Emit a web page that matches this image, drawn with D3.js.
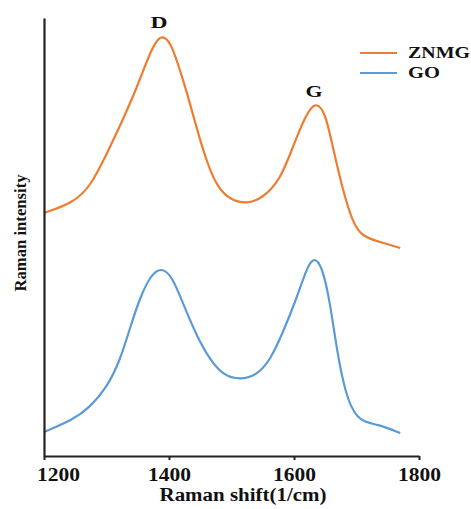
<!DOCTYPE html>
<html>
<head>
<meta charset="utf-8">
<script src="https://cdn.jsdelivr.net/npm/d3@7"></script>
<style>
  body { margin: 0; background: #fff; }
  text { font-family: "Liberation Serif", "Times New Roman", serif; font-weight: bold; fill: #111; }
</style>
</head>
<body>
<div id="chart"></div>
<script>
// Raman shift (1/cm) sample positions and intensities (arbitrary units)
const znmgShift = [1200, 1246, 1274, 1301, 1326, 1349, 1365, 1378, 1389, 1402, 1414, 1429, 1445, 1461, 1477, 1498, 1525, 1550, 1578, 1598, 1618, 1634, 1650, 1662, 1678, 1694, 1710, 1738, 1770];
const znmgIntensity = [243, 253, 269, 303, 336, 369, 396, 414, 421, 414, 393, 363, 326, 293, 269, 256, 252, 258, 276, 309, 340, 355, 344, 309, 266, 233, 219, 214, 208];

const goShift = [1200, 1246, 1274, 1301, 1322, 1338, 1354, 1370, 1387, 1405, 1422, 1445, 1466, 1486, 1514, 1541, 1562, 1582, 1605, 1621, 1632, 1645, 1658, 1670, 1686, 1706, 1733, 1770];
const goIntensity = [24, 36, 49, 69, 96, 129, 159, 180, 189, 180, 153, 119, 96, 81, 76, 81, 96, 123, 159, 189, 199, 190, 153, 99, 53, 34, 32, 23];

const xTicks = [1200, 1400, 1600, 1800];
const seriesNames = ["ZNMG", "GO"];
const seriesColors = ["#ED7D31", "#5B9BD5"];

const series = [
  { name: seriesNames[0], color: seriesColors[0], values: znmgShift.map((s, i) => ({ x: s, y: znmgIntensity[i] })) },
  { name: seriesNames[1], color: seriesColors[1], values: goShift.map((s, i) => ({ x: s, y: goIntensity[i] })) }
];

const WIDTH = 471, HEIGHT = 509;
const MARGIN = { top: 18, right: 52, bottom: 53, left: 44 };

const svg = d3.select("#chart").append("svg")
  .attr("width", WIDTH)
  .attr("height", HEIGHT);

const x = d3.scaleLinear()
  .domain([1200, 1800])
  .range([MARGIN.left, WIDTH - MARGIN.right]);
const y = d3.scaleLinear()
  .domain([0, 438])
  .range([HEIGHT - MARGIN.bottom, MARGIN.top]);

// lines
const line = d3.line()
  .x(d => x(d.x))
  .y(d => y(d.y))
  .curve(d3.curveBasis);

svg.selectAll(".series")
  .data(series)
  .enter().append("path")
  .attr("class", "series")
  .attr("fill", "none")
  .attr("stroke", d => d.color)
  .attr("stroke-width", 2.2)
  .attr("d", d => line(d.values));

// axes
const xAxis = svg.append("g")
  .attr("transform", `translate(0, ${HEIGHT - MARGIN.bottom})`)
  .call(d3.axisBottom(x).tickValues(xTicks).tickFormat(d3.format("d")).tickSize(4).tickSizeOuter(0));
xAxis.select(".domain").attr("stroke", "#222").attr("stroke-width", 2.2);
xAxis.selectAll(".tick line").attr("stroke", "#222").attr("stroke-width", 2);
xAxis.selectAll(".tick text")
  .attr("y", 12)
  .attr("font-size", "18px")
  .attr("font-family", "Liberation Serif, serif")
  .attr("font-weight", "bold")
  .attr("fill", "#111")
  .attr("textLength", 43)
  .attr("lengthAdjust", "spacingAndGlyphs");
xAxis.selectAll(".tick text").filter(d => d === 1200).attr("dx", 14);

const yAxis = svg.append("g")
  .attr("transform", `translate(${MARGIN.left}, 0)`)
  .call(d3.axisLeft(y).tickValues([]).tickSizeOuter(0));
yAxis.select(".domain").attr("stroke", "#222").attr("stroke-width", 2.2);

// axis titles
svg.append("text")
  .attr("x", 243)
  .attr("y", 501)
  .attr("text-anchor", "middle")
  .attr("font-size", "18px")
  .attr("textLength", 167)
  .attr("lengthAdjust", "spacingAndGlyphs")
  .text("Raman shift(1/cm)");

svg.append("text")
  .attr("transform", "translate(26, 233) rotate(-90)")
  .attr("text-anchor", "middle")
  .attr("font-size", "16px")
  .attr("textLength", 117)
  .attr("lengthAdjust", "spacingAndGlyphs")
  .text("Raman intensity");

// peak labels
svg.append("text")
  .attr("x", x(1384)).attr("y", 28)
  .attr("text-anchor", "middle")
  .attr("font-size", "16px")
  .attr("textLength", 17)
  .attr("lengthAdjust", "spacingAndGlyphs")
  .text("D");
svg.append("text")
  .attr("x", x(1632)).attr("y", 97)
  .attr("text-anchor", "middle")
  .attr("font-size", "16px")
  .attr("textLength", 17)
  .attr("lengthAdjust", "spacingAndGlyphs")
  .text("G");

// legend
const legendWidths = [62, 32];
const legend = svg.append("g").attr("transform", "translate(360, 53)");
const items = legend.selectAll("g")
  .data(series)
  .enter().append("g")
  .attr("transform", (d, i) => `translate(0, ${i * 20})`);
items.append("line")
  .attr("x1", 0).attr("x2", 37)
  .attr("stroke", d => d.color)
  .attr("stroke-width", 2);
items.append("text")
  .attr("x", 48).attr("y", 5)
  .attr("font-size", "17px")
  .attr("textLength", (d, i) => legendWidths[i])
  .attr("lengthAdjust", "spacingAndGlyphs")
  .text(d => d.name);
</script>
</body>
</html>
